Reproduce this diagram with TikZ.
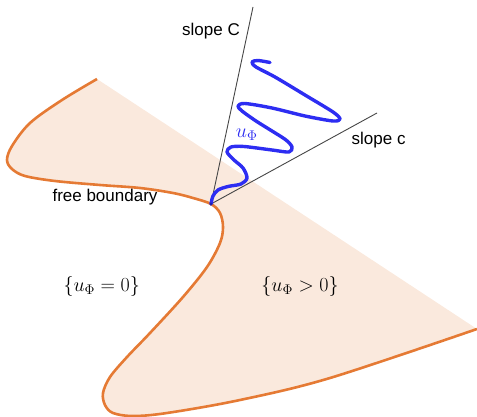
\RequirePackage{fix-cm}
\documentclass[tikz,border=0pt]{standalone}
\usepackage{amsmath,amssymb}
\usepackage{fontspec}
\setsansfont{Liberation Sans}
\usepackage{tikz}
\usetikzlibrary{positioning}
\definecolor{fborange}{RGB}{229,122,52}
\definecolor{posfill}{RGB}{250,233,221}
\definecolor{solblue}{RGB}{45,45,242}
\definecolor{raygray}{RGB}{70,70,70}
\tikzset{
  fbcurve/.style={line width=2.6pt,draw=fborange,fill=posfill,line join=round},
  ray/.style={line width=0.9pt,draw=raygray},
  solcurve/.style={line width=3.4pt,draw=solblue,line cap=round,line join=round},
  lab/.style={font=\sffamily\fontsize{17}{20}\selectfont,inner sep=0pt},
  mathlab/.style={font=\fontsize{20}{24}\selectfont,inner sep=0pt}
}

\begin{document}
\begin{tikzpicture}[x=1pt,y=-1pt]
  \useasboundingbox (0,0) rectangle (477,417);

  % positivity set, closed by the straight edge
  \path[fbcurve] plot[smooth,tension=0.55] coordinates {
    (97,79) (62,100) (30,123) (12,146) (7,160) (12,169) (25,176)
    (55,181) (100,185) (140,188) (173,193) (193,198) (211,204)
    (220,213) (223,227) (220,243) (207,267) (183,297) (150,333)
    (127,357) (110,377) (103,393) (105,405) (113,413) (133,416)
    (167,413) (240,400) (330,378) (477,329)};

  \coordinate (vtx) at (211,204);
  \coordinate (endC) at (253,7);
  \coordinate (endc) at (377,113);

  \draw[ray] (vtx) -- (endC);
  \draw[ray] (vtx) -- (endc);

  \draw[solcurve] plot[smooth,tension=0.5] coordinates {
    (211,204) (213,196) (218,190) (228,186.5) (241,184) (247,178)
    (243,168) (234,160) (227,152) (231,147) (244,146.5) (272,150)
    (289,152) (292,147) (286,140) (272,131) (256,121) (242,111)
    (238,106) (245,103.5) (272,108) (305,116) (333,121) (340,119)
    (333,112) (305,95) (275,77) (256,67) (252,62) (258,60.5) (270,62.5)};
  \fill[solblue!70!black] (vtx) circle (1.6pt);

  \node[lab,anchor=base] (slopeC) at (211,35.5) {slope C};
  \node[lab,anchor=base west] (slopec) at (351.5,144.3) {slope c};
  \node[lab,anchor=base] (fbd) at (105,201) {free boundary};

  \node[mathlab,text=solblue] (ulab) at (246.7,134.3) {$u_\Phi$};
  \node[mathlab,anchor=base] (zeroset) at (101.7,291) {$\{u_\Phi=0\}$};
  \node[mathlab,anchor=base] (posset) at (300,291) {$\{u_\Phi>0\}$};
\end{tikzpicture}
\end{document}
